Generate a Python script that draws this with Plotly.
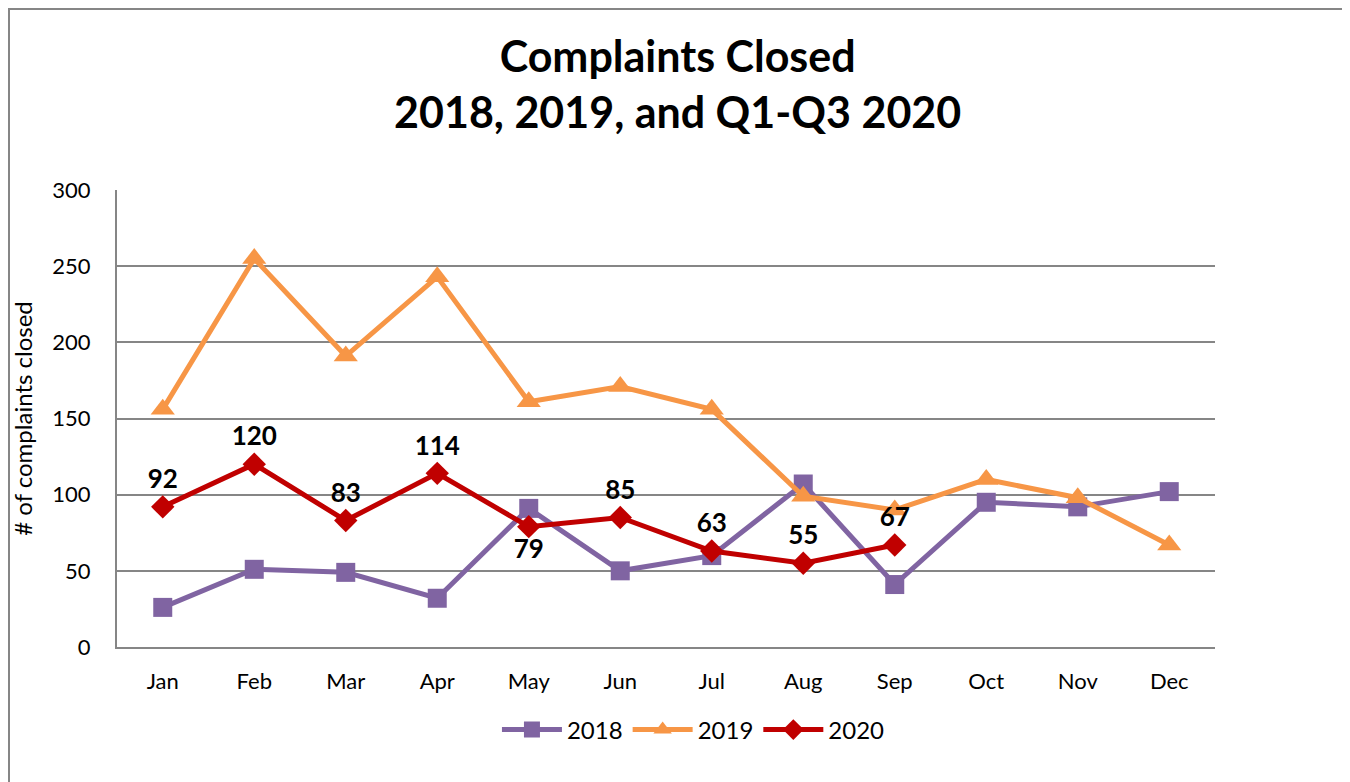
import plotly.graph_objects as go

months = ["Jan", "Feb", "Mar", "Apr", "May", "Jun", "Jul", "Aug", "Sep", "Oct", "Nov", "Dec"]
y2018 = [26, 51, 49, 32, 91, 50, 60, 107, 41, 95, 92, 102]
y2019 = [156, 255, 191, 243, 161, 171, 156, 99, 90, 110, 98, 67]
y2020 = [92, 120, 83, 114, 79, 85, 63, 55, 67]
label_pos_2020 = ["top center"] * 4 + ["bottom center"] + ["top center"] * 4

FONT = "Lato, 'Open Sans', sans-serif"

fig = go.Figure()
fig.add_trace(go.Scatter(
    x=months, y=y2018, name="2018", mode="lines+markers",
    line=dict(color="#8064A2", width=5),
    marker=dict(symbol="square", size=19, color="#8064A2"),
))
fig.add_trace(go.Scatter(
    x=months, y=y2019, name="2019", mode="lines+markers",
    line=dict(color="#F79646", width=5),
    marker=dict(symbol="triangle-up", size=21, color="#F79646"),
))
fig.add_trace(go.Scatter(
    x=months[:len(y2020)], y=y2020, name="2020", mode="lines+markers+text",
    line=dict(color="#C00000", width=5),
    marker=dict(symbol="diamond", size=18, color="#C00000"),
    text=[str(v) for v in y2020], textposition=label_pos_2020,
    textfont=dict(family=FONT, size=26, color="black", weight="bold"),
))

W, H = 1342, 774
L, R, T, B = 109, 135, 182, 135
PW, PH = W - L - R, H - T - B

fig.update_layout(
    width=W, height=H,
    paper_bgcolor="white", plot_bgcolor="white",
    margin=dict(l=L, r=R, t=T, b=B, autoexpand=False),
    title=dict(
        text="<b>Complaints Closed<br>2018, 2019, and Q1-Q3 2020</b>",
        x=0.499, xanchor="center", y=(H - 64) / H, yanchor="middle",
        font=dict(family=FONT, size=43, color="black"),
    ),
    font=dict(family=FONT, color="black"),
    xaxis=dict(
        type="category", categoryorder="array", categoryarray=months,
        range=[-0.5, 11.5], showgrid=False, showline=True, linecolor="#868686",
        linewidth=2, ticks="", tickfont=dict(size=22), ticklabelstandoff=14,
    ),
    yaxis=dict(
        range=[0, 300], dtick=50, showgrid=True, gridcolor="#868686", gridwidth=2,
        showline=True, linecolor="#868686", linewidth=2, ticks="",
        tickfont=dict(size=22), zeroline=False, ticklabelstandoff=20,
        title=dict(text="# of complaints closed", font=dict(size=24), standoff=18),
    ),
    legend=dict(
        orientation="h", x=0.525, xanchor="center", y=-83 / PH, yanchor="middle",
        font=dict(size=24), itemwidth=60,
    ),
    showlegend=True,
)

fig.add_shape(
    type="rect", xref="paper", yref="paper",
    x0=-(L - 1) / PW, x1=(W - 1 - L) / PW,
    y0=-(B + 2) / PH, y1=(PH + T - 1) / PH,
    line=dict(color="#868686", width=2), layer="below",
)

fig.write_html("out.html")
